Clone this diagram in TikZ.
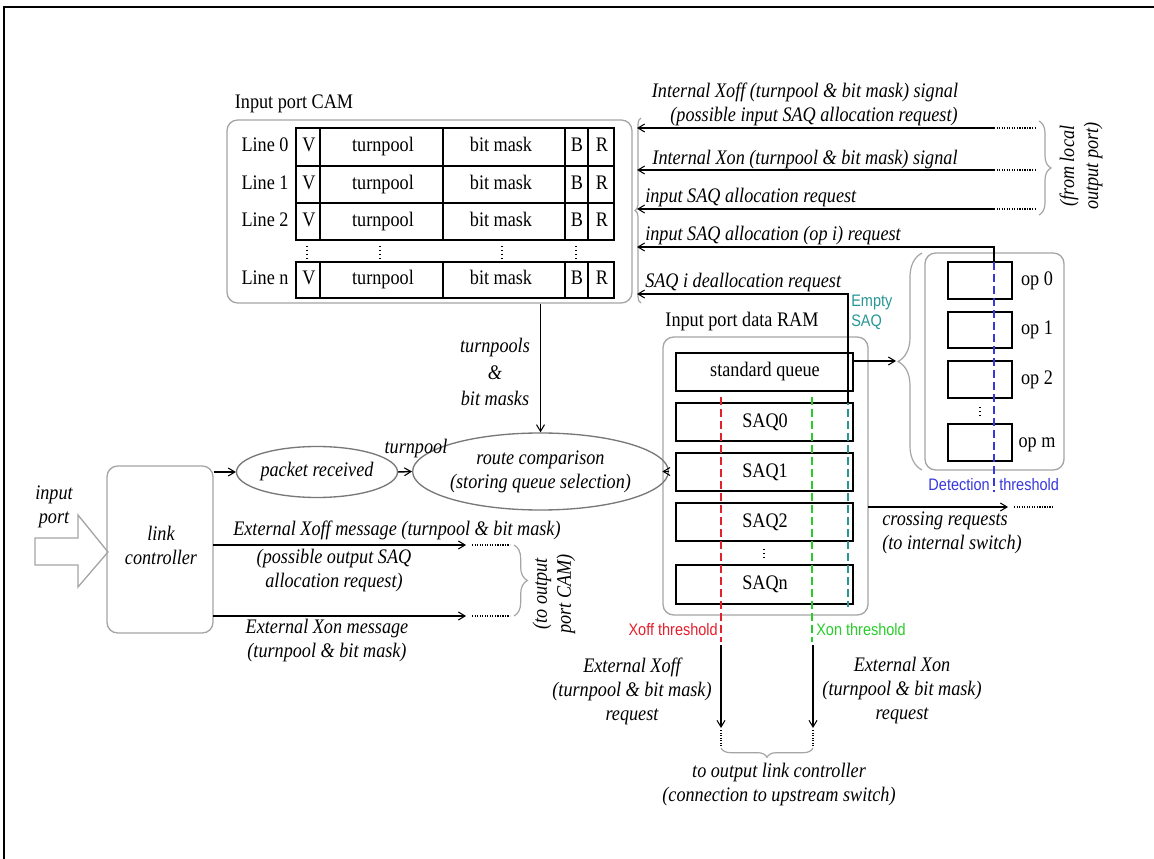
\documentclass[tikz,border=0pt]{standalone}
\usepackage{fontspec}
\setmainfont{Liberation Serif}[FakeStretch=0.88]
\newfontfamily\labsans{Liberation Sans}[FakeStretch=0.87]
\usetikzlibrary{arrows.meta,decorations.pathreplacing,shapes.geometric,fit}
\definecolor{frgray}{RGB}{165,165,165}
\definecolor{elgray}{RGB}{120,120,120}
\definecolor{xred}{RGB}{228,32,44}
\definecolor{xgreen}{RGB}{40,205,40}
\definecolor{xteal}{RGB}{40,150,150}
\definecolor{xblue}{RGB}{55,55,220}
\begin{document}
\begin{tikzpicture}[x=0.75pt,y=-0.75pt,
  every node/.style={font=\fontsize{15.5}{18}\selectfont, inner sep=0pt},
  ct/.style={text height=10.5pt, text depth=3pt},
  lab/.style={font=\fontsize{15.5}{18}\selectfont\itshape, align=center},
  sanslab/.style={font=\fontsize{12.5}{15}\selectfont\labsans, align=left},
  conn/.style={line width=1.1pt},
  arr/.style={conn, -{Straight Barb[length=5pt,width=6pt,line width=0.8pt]}},
  dotline/.style={densely dotted, line width=0.9pt},
  gbox/.style={draw=frgray, line width=1pt, rounded corners=8pt},
  cell/.style={draw=black, line width=1.1pt},
  brc/.style={draw=frgray, line width=0.9pt, decorate, decoration={brace, amplitude=#1}},
  thr/.style={line width=1pt, dash pattern=on 6pt off 3pt},
]
\useasboundingbox (0,0) rectangle (1154,859);
% outer frame (cropped)
\draw[line width=1.6pt] (4,859) -- (4,7) -- (1154,7);

% ---------------- Input port CAM ----------------
\node[ct] (camt) at (294,104) {Input port CAM};
\node[gbox, fit={(227,120)(632,303)}] (cam) {};
\foreach \t/\b/\n in {128/166/0,166/203/1,203/240/2,262/298/n} {
  \draw[cell] (296,\t) rectangle (614,\b);
  \foreach \xx in {320,443,565,588} \draw[cell] (\xx,\t) -- (\xx,\b);
  \node[ct] (ln\n) at (265,{(\t+\b)/2}) {Line \n};
  \node[ct] (v\n) at (309,{(\t+\b)/2}) {V};
  \node[ct] (tp\n) at (383,{(\t+\b)/2}) {turnpool};
  \node[ct] (bm\n) at (501,{(\t+\b)/2}) {bit mask};
  \node[ct] (bb\n) at (577,{(\t+\b)/2}) {B};
  \node[ct] (rr\n) at (602,{(\t+\b)/2}) {R};
}
\foreach \xx in {307,380,502,576} \draw[dotted, line width=1pt] (\xx,246) -- (\xx,259);

% left brace of CAM signals
\draw[brc=4.5pt] (641,303) -- (641,118);

% signals from the right
\coordinate (s1a) at (994,128); \coordinate (s1b) at (637,128);
\coordinate (s2a) at (994,170); \coordinate (s2b) at (637,170);
\coordinate (s3a) at (994,209); \coordinate (s3b) at (637,209);
\coordinate (s4b) at (637,247);
\coordinate (s5b) at (637,294);
\draw[arr] (s1a) -- (s1b); \draw[dotline] (s1a) -- ++(42,0);
\draw[arr] (s2a) -- (s2b); \draw[dotline] (s2a) -- ++(42,0);
\draw[arr] (s3a) -- (s3b); \draw[dotline] (s3a) -- ++(42,0);
\node[lab] (t1) at (805,92) {Internal Xoff (turnpool \& bit mask) signal};
\node[lab] (t1b) at (814,117) {(possible input SAQ allocation request)};
\node[lab] (t2) at (805,160) {Internal Xon (turnpool \& bit mask) signal};
\node[lab, anchor=west] (t3) at (645,198) {input SAQ allocation request};
\node[lab, anchor=west] (t4) at (645,236) {input SAQ allocation (op i) request};
\node[lab, anchor=west] (t5) at (645,283) {SAQ i deallocation request};
\draw[brc=9pt] (1039,121) -- (1039,215);
\node[lab, rotate=90] (fromloc) at (1081,166) {(from local\\output port)};

% ---------------- Output port groups (op) ----------------
\node[gbox, fit={(925,253)(1064,470)}] (opg) {};
\foreach \t/\b/\n in {262/299/0,312/348/1,361/398/2,424/461/m} {
  \node[cell, fit={(948,\t)(1012,\b)}] (op\n) {};
  \node[ct] (opl\n) at (1037,{(\t+\b)/2}) {op \n};
}
\draw[dotted, line width=1pt] (980,407) -- (980,417);
\coordinate (det) at (994,262);
\coordinate (detb) at (994,492);
\draw[thr, draw=xblue] (det) -- (detb);
\draw[arr] (det) |- (s4b);
\node[sanslab, text=xblue, anchor=east] (dett1) at (990,485) {Detection};
\node[sanslab, text=xblue, anchor=west] (dett2) at (999,485) {threshold};
\draw[brc=18pt] (922,470) -- (922,253);

% ---------------- Input port data RAM ----------------
\node[ct] (ramt) at (742,322) {Input port data RAM};
\node[gbox, fit={(663,337)(868,615)}] (ram) {};
\foreach \t/\b/\nm/\tx in {353/391/sq/standard queue,403/441/saq0/SAQ0,453/491/saq1/SAQ1,503/541/saq2/SAQ2,565/604/saqn/SAQn} {
  \node[cell, fit={(676,\t)(853,\b)}] (\nm) {};
  \node[ct] (\nm t) at (765,{(\t+\b)/2}) {\tx};
}
\draw[dotted, line width=1pt] (764,549) -- (764,560);
\draw[thr, draw=xred] (721,397) -- (721,642);
\draw[thr, draw=xgreen] (812,397) -- (812,642);
\draw[thr, draw=xteal] (848,397) -- (848,607);
\coordinate (emp) at (848,403);
\draw[arr] (emp) |- (s5b);
\node[sanslab, text=xteal, anchor=west] (empt) at (851,312) {Empty\\SAQ};
\node[sanslab, text=xred, anchor=east] (xofft) at (718,630) {Xoff threshold};
\node[sanslab, text=xgreen, anchor=west] (xont) at (816,630) {Xon threshold};
\coordinate (sqo) at (853,361); \coordinate (bt) at (896,361);
\draw[arr] (sqo) -- (bt);
\coordinate (cr1) at (868,507); \coordinate (cr2) at (1008,507);
\draw[arr] (cr1) -- (cr2); \draw[dotline] (1014,507) -- (1053,507);
\node[lab, align=left, anchor=west] (crt) at (882,533) {crossing requests\\(to internal switch)};

% bottom requests
\coordinate (xa1) at (721,645); \coordinate (xa2) at (721,728);
\coordinate (xb1) at (813,645); \coordinate (xb2) at (813,728);
\draw[arr] (xa1) -- (xa2); \draw[dotline] (721,730) -- (721,746);
\draw[arr] (xb1) -- (xb2); \draw[dotline] (813,730) -- (813,746);
\draw[brc=7pt] (813,748) -- (721,748);
\node[lab] (exoff) at (632,691) {External Xoff\\(turnpool \& bit mask)\\request};
\node[lab] (exon) at (902,691) {External Xon\\(turnpool \& bit mask)\\request};
\node[lab] (olc) at (779,785) {to output link controller\\(connection to upstream switch)};

% ---------------- Left part ----------------
\node[lab] (inp) at (54,507) {input\\port};
\draw[draw=frgray, line width=1pt] (35,538) -- (78,538) -- (78,515) -- (108,552) -- (78,587) -- (78,565) -- (35,565) -- cycle;
\node[gbox, fit={(107,466)(213,633)}] (lc) {};
\node[lab] (lct) at (161,545) {link\\controller};
\node[ellipse, draw=elgray, line width=1pt, minimum width=120.75pt, minimum height=38.25pt, lab] (pr) at (317,472) {packet received};
\node[ellipse, draw=elgray, line width=1pt, minimum width=144.75pt, minimum height=57.75pt, lab] (rc) at (540.5,471.5) {route comparison\\(storing queue selection)};
\draw[arr] (lc.east|-pr.west) -- (pr.west);
\draw[arr] (pr.east) -- (rc.west);
\node[lab] (tpl) at (416,449) {turnpool};
\draw[arr] (rc.north|-cam.south) -- (rc.north);
\node[lab] (tpbm) at (495,372) {turnpools\\[2pt]\&\\[2pt]bit masks};
\draw[arr] (rc.east) -- (rc.east-|ram.west);

\coordinate (ex1) at (213,545); \coordinate (ex2) at (466,545);
\coordinate (ey1) at (213,616); \coordinate (ey2) at (466,616);
\draw[arr] (ex1) -- (ex2); \draw[dotline] (472,545) -- (510,545);
\draw[arr] (ey1) -- (ey2); \draw[dotline] (472,616) -- (510,616);
\node[lab, anchor=west] (ext1) at (233,530) {External Xoff message (turnpool \& bit mask)};
\node[lab] (ext1b) at (334,571) {(possible output SAQ\\allocation request)};
\node[lab] (ext2) at (327,641) {External Xon message\\(turnpool \& bit mask)};
\draw[brc=10pt] (514,545) -- (514,616);
\node[lab, rotate=90] (tocam) at (554,594) {(to output\\port CAM)};
\end{tikzpicture}
\end{document}
